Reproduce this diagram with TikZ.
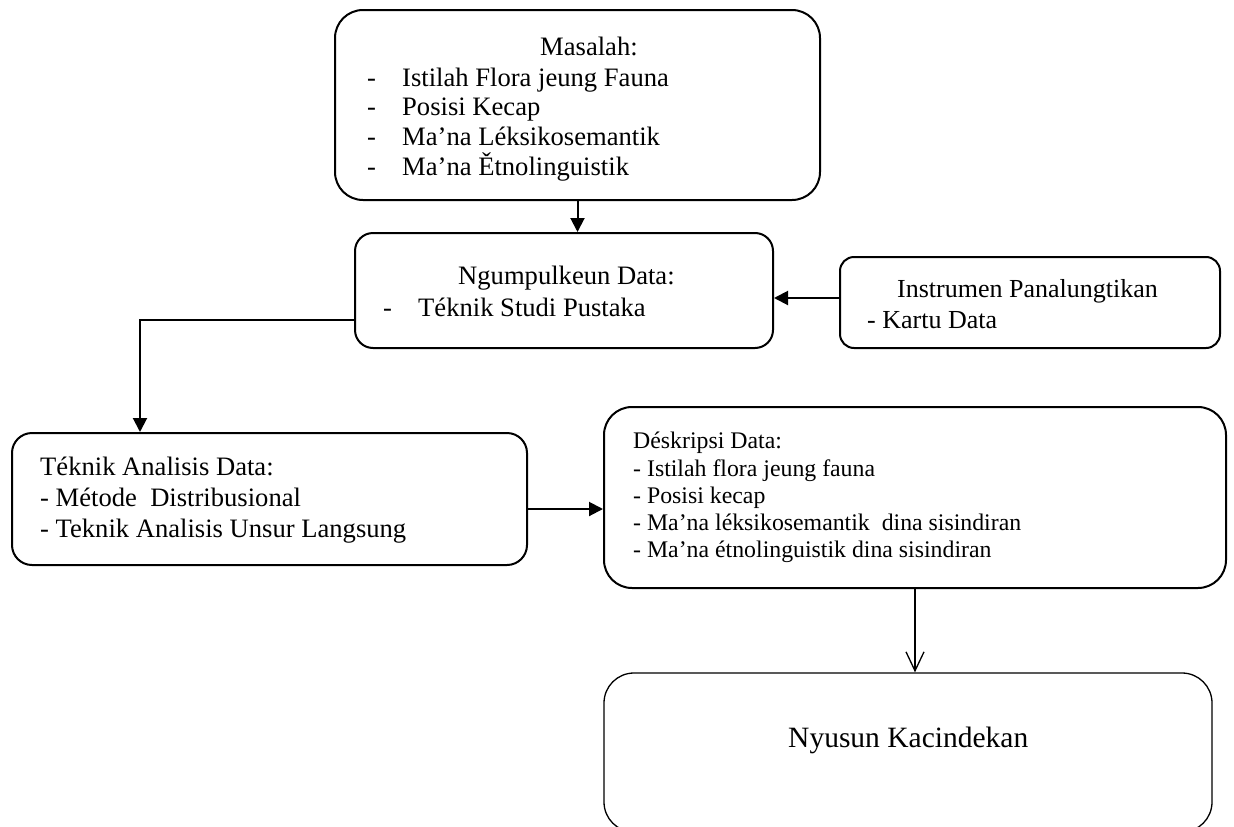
\documentclass[tikz,border=0pt]{standalone}
\usepackage{fontspec}
\setmainfont{Liberation Serif}
\usetikzlibrary{arrows.meta,calc}
\begin{document}
\begin{tikzpicture}[x=1pt,y=-1pt,
  box/.style={draw, line width=2pt, rounded corners=#1, inner sep=0pt},
  box/.default=20pt,
  txt/.style={anchor=base west, inner sep=0pt, font=\fontsize{26.6}{30}\selectfont},
  itxt/.style={anchor=base west, inner sep=0pt, font=\fontsize{26}{30}\selectfont},
  stxt/.style={anchor=base west, inner sep=0pt, font=\fontsize{23.8}{27}\selectfont},
  btxt/.style={anchor=base west, inner sep=0pt, font=\fontsize{29.5}{33}\selectfont},
  arr/.style={line width=2pt, -{Triangle[width=14pt,length=14pt]}},
  openarr/.style={line width=1.3pt, -{Straight Barb[width=18pt,length=19pt,line width=1.3pt]}},
]
\useasboundingbox (0,0) rectangle (1234,827);
\begin{scope}
\clip (0,0) rectangle (1234,827);
% boxes
\node[box=28pt, minimum width=485pt, minimum height=190pt] (masalah) at (577.5,105) {};
\node[box=18pt, minimum width=418pt, minimum height=115pt] (ngump) at (564,290.5) {};
\node[box=14pt, minimum width=380pt, minimum height=91pt] (instr) at (1030,302.5) {};
\node[box=20pt, minimum width=515pt, minimum height=132pt] (teknik) at (269.5,499) {};
\node[box=28pt, minimum width=622pt, minimum height=181pt] (deskr) at (915,497.5) {};
\node[box=30pt, line width=1.3pt, minimum width=608pt, minimum height=159pt] (nyusun) at (908,752.5) {};
\end{scope}

% Masalah texts
\node[txt] (m0) at (540,55) {Masalah:};
\node[txt] (m1d) at (367,86) {-};
\node[txt] (m1) at (402,86) {Istilah Flora jeung Fauna};
\node[txt] (m2d) at (367,115.5) {-};
\node[txt] (m2) at (402,115.5) {Posisi Kecap};
\node[txt] (m3d) at (367,145) {-};
\node[txt] (m3) at (402,145) {Ma’na Léksikosemantik};
\node[txt] (m4d) at (367,175) {-};
\node[txt] (m4) at (402,175) {Ma’na Ětnolinguistik};

% Ngumpulkeun texts
\node[txt] (n0) at (458,284) {Ngumpulkeun Data:};
\node[txt] (n1d) at (383,316) {-};
\node[txt] (n1) at (418,316) {Téknik Studi Pustaka};

% Instrumen texts
\node[itxt] (i0) at (897,297) {Instrumen Panalungtikan};
\node[itxt] (i1) at (867,328) {- Kartu Data};

% Teknik texts
\node[txt] (k0) at (40,475) {Téknik Analisis Data:};
\node[txt] (k1) at (40,506) {- Métode\ \ Distribusional};
\node[txt] (k2) at (40,537) {- Teknik Analisis Unsur Langsung};

% Deskripsi texts
\node[stxt] (d0) at (633,448) {Déskripsi Data:};
\node[stxt] (d1) at (633,476) {- Istilah flora jeung fauna};
\node[stxt] (d2) at (633,503) {- Posisi kecap};
\node[stxt] (d3) at (633,530) {- Ma’na léksikosemantik\ \ dina sisindiran};
\node[stxt] (d4) at (633,557) {- Ma’na étnolinguistik dina sisindiran};

% Nyusun text
\node[btxt] (y0) at (788,747) {Nyusun Kacindekan};

% connectors
\draw[arr] (masalah.south) -- (masalah.south |- ngump.north);
\draw[arr] ([yshift=4.5pt]instr.west) -- ([yshift=4.5pt]instr.west -| ngump.east);
\draw[arr] ([yshift=-29.5pt]ngump.west) -| ([xshift=-129.5pt]teknik.north);
\draw[arr] ([yshift=-10pt]teknik.east) -- ([yshift=-10pt]teknik.east -| deskr.west);
\draw[openarr] (deskr.south) -- (deskr.south |- nyusun.north);
\end{tikzpicture}
\end{document}
